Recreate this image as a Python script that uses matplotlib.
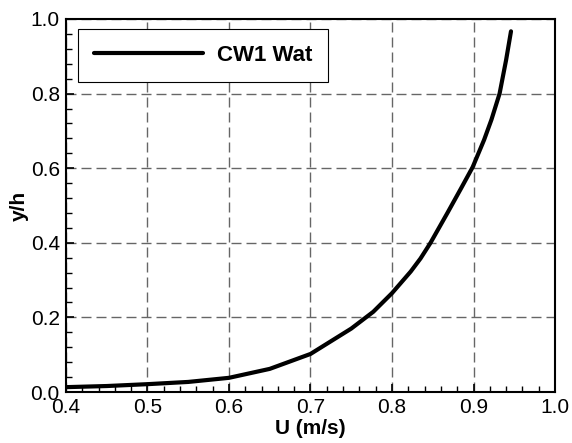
import matplotlib
matplotlib.use('Agg')
import matplotlib.pyplot as plt
from matplotlib.ticker import MultipleLocator

# velocity profile
u = [0.400, 0.450, 0.500, 0.550, 0.600, 0.650, 0.700, 0.750, 0.777, 0.800,
     0.823, 0.835, 0.847, 0.868, 0.885, 0.899, 0.913, 0.922, 0.932, 0.940, 0.946]
yh = [0.013, 0.016, 0.021, 0.027, 0.038, 0.062, 0.102, 0.170, 0.215, 0.265,
      0.323, 0.358, 0.399, 0.480, 0.547, 0.603, 0.676, 0.730, 0.800, 0.890, 0.967]
series_label = 'CW1 Wat'

plt.rcParams['font.family'] = ['Liberation Sans', 'DejaVu Sans']

fig = plt.figure(figsize=(5.72, 4.43), dpi=100)
# axes box: x 66..555 px, y 19..392 px
ax = fig.add_axes([66 / 572, 51 / 443, 489 / 572, 373 / 443])

ax.plot(u, yh, color='black', lw=3.0, solid_capstyle='round',
        solid_joinstyle='round', label=series_label)

ax.set_xlim(0.4, 1.0)
ax.set_ylim(0.0, 1.0)
ax.xaxis.set_major_locator(MultipleLocator(0.1))
ax.xaxis.set_minor_locator(MultipleLocator(0.02))
ax.yaxis.set_major_locator(MultipleLocator(0.2))
ax.yaxis.set_minor_locator(MultipleLocator(0.04))
ax.xaxis.set_major_formatter(plt.FormatStrFormatter('%.1f'))
ax.yaxis.set_major_formatter(plt.FormatStrFormatter('%.1f'))

ax.tick_params(which='major', direction='in', length=6, width=1.2, labelsize=15, pad=4.5)
ax.tick_params(which='minor', direction='in', length=4, width=1.0)
for s in ax.spines.values():
    s.set_linewidth(1.5)

ax.grid(True, which='major', color='0.4', linestyle=(0, (7.2, 3.6)), linewidth=1.0)

ax.set_xlabel('U (m/s)', fontsize=15, fontweight='bold', labelpad=1)
ax.set_ylabel('y/h', fontsize=15, fontweight='bold', labelpad=1)

leg = ax.legend(loc='upper left', bbox_to_anchor=(0.0246, 0.973), fancybox=False,
                framealpha=1, edgecolor='black', handlelength=4.9, borderpad=0.72,
                handletextpad=0.62, borderaxespad=0,
                prop={'weight': 'bold', 'size': 16})
leg.get_frame().set_linewidth(0.8)
leg.get_lines()[0].set_linewidth(3.0)

fig.savefig('out.png', dpi=100)
